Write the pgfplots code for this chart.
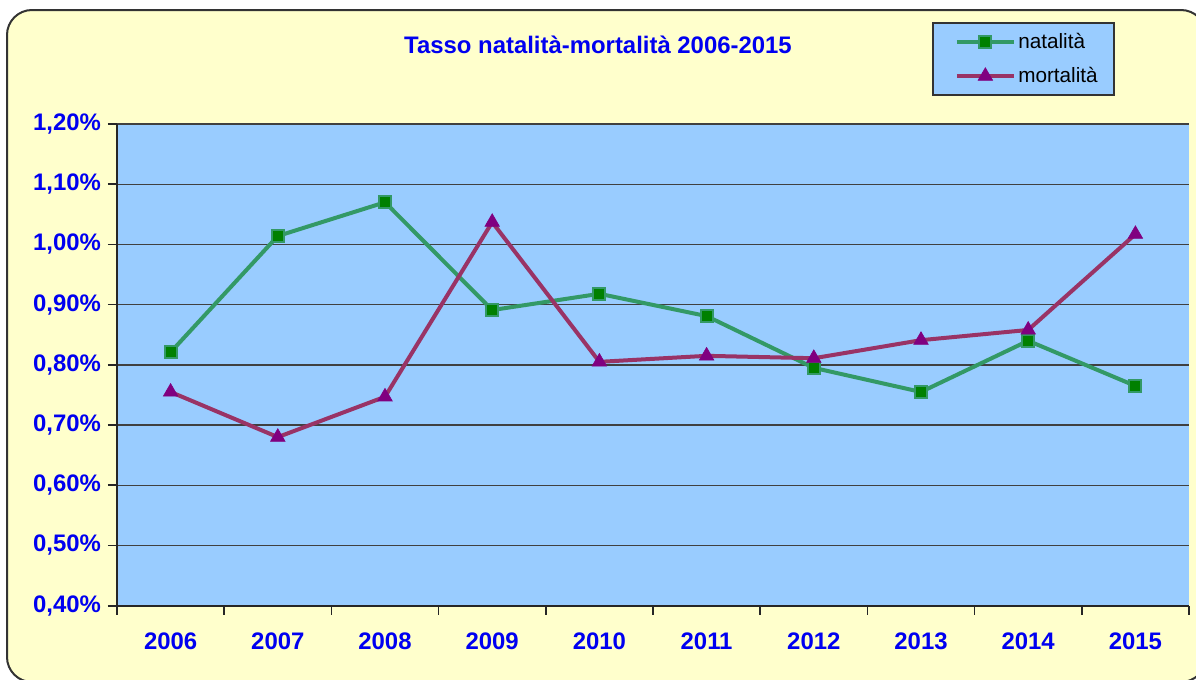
\documentclass[border=0pt]{standalone}
\usepackage{pgfplots}
\pgfplotsset{compat=1.18}
\usepackage{fontspec}
\setmainfont{Liberation Sans}
\definecolor{bgyellow}{HTML}{FFFFCC}
\definecolor{plotblue}{HTML}{99CCFF}
\definecolor{natline}{HTML}{339966}
\definecolor{natmark}{HTML}{008000}
\definecolor{morline}{HTML}{993366}
\definecolor{mormark}{HTML}{800080}
\definecolor{txtblue}{HTML}{0000F0}
\begin{document}
\begin{tikzpicture}
\useasboundingbox (0,0) rectangle (598bp,-340bp);
\begin{scope}
\clip (0,0) rectangle (598bp,-340bp);
\draw[fill=bgyellow, draw=black!80, line width=1bp, rounded corners=12.5bp]
  (3.5bp,-5bp) rectangle (603bp,-341bp);
\end{scope}
\begin{axis}[
  at={(58.5bp,-302.85bp)}, anchor=south west,
  scale only axis,
  width=536bp, height=240.85bp,
  xmin=-0.5, xmax=9.5,
  ymin=0.4, ymax=1.2,
  xtick={-0.5,0.5,1.5,2.5,3.5,4.5,5.5,6.5,7.5,8.5,9.5},
  x tick label as interval,
  xticklabels={2006,2007,2008,2009,2010,2011,2012,2013,2014,2015},
  xticklabel style={yshift=-5.5bp},
  ytick={0.4,0.5,0.6,0.7,0.8,0.9,1.0,1.1,1.2},
  yticklabels={{0,40\%},{0,50\%},{0,60\%},{0,70\%},{0,80\%},{0,90\%},{1,00\%},{1,10\%},{1,20\%}},
  axis lines*=left,
  axis line style={-, black!85, line width=0.8bp},
  xtick pos=left, ytick pos=left,
  tick align=outside,
  major tick length=4.5bp,
  tick style={black!85, line width=0.8bp},
  ymajorgrids,
  grid style={black!75, line width=0.7bp},
  axis background/.style={fill=plotblue},
  ticklabel style={font=\bfseries\fontsize{12}{14}\selectfont, text=txtblue},
  title={Tasso natalità-mortalità 2006-2015},
  every axis title shift=0pt,
  title style={at={(0.4487,1.164)}, anchor=center, font=\bfseries\fontsize{12}{14}\selectfont, text=txtblue},
  legend style={at={(0.7603,1.2118)}, anchor=north west,
    draw=black!80, line width=0.8bp, fill=plotblue,
    font=\fontsize{10.4}{12.5}\selectfont,
    row sep=4bp, inner ysep=3bp, inner xsep=7bp,
    nodes={inner xsep=1.2bp},
    legend cell align=left},
  legend image code/.code={\path (-4bp,0bp); \draw[mark repeat=2,mark phase=2] plot coordinates {(0bp,0bp)(14.25bp,0bp)(28.5bp,0bp)};},
  clip=false,
]
\addplot[natline, line width=2bp, mark=square*, mark size=3bp,
  mark options={fill=natmark, draw=natline, line width=1bp, solid}]
  coordinates {(0,0.821) (1,1.014) (2,1.070) (3,0.891) (4,0.918) (5,0.881) (6,0.795) (7,0.755) (8,0.840) (9,0.765)};
\addlegendentry{natalità}
\addplot[morline, line width=2bp, mark=triangle*, mark size=4.2bp,
  mark options={fill=mormark, draw=mormark, line width=0.3bp, solid}]
  coordinates {(0,0.755) (1,0.680) (2,0.747) (3,1.037) (4,0.805) (5,0.815) (6,0.811) (7,0.841) (8,0.858) (9,1.017)};
\addlegendentry{mortalità}
\end{axis}
\end{tikzpicture}
\end{document}
